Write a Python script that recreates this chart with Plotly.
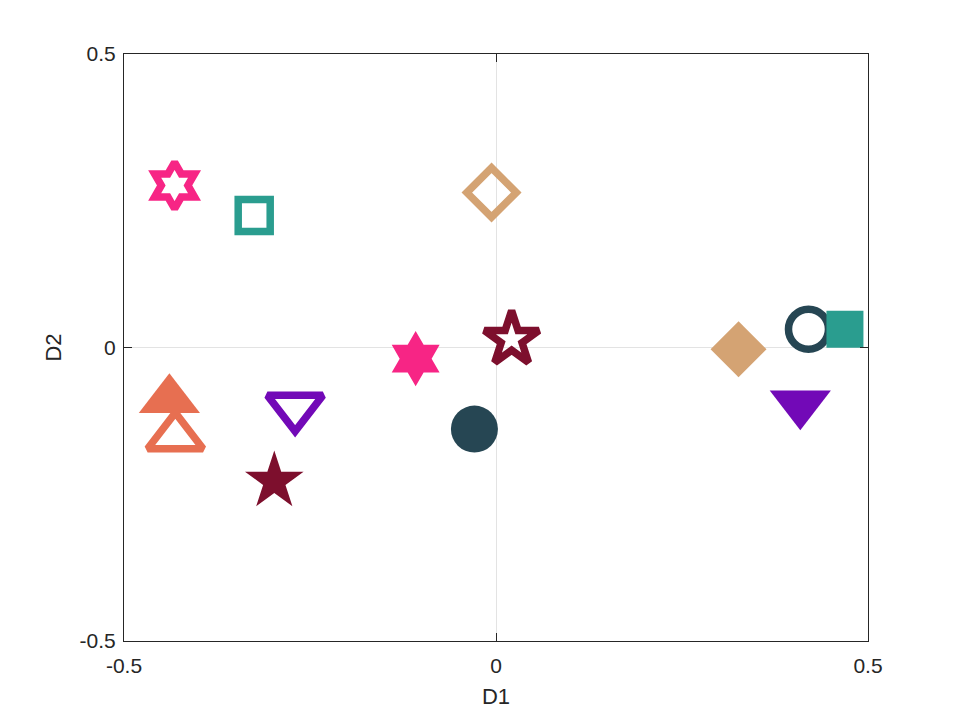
import plotly.graph_objects as go

# point positions (D1, D2)
labels = ["hex_open", "sq_open", "dia_open", "star_open", "circ_open", "triup_open", "tridn_open",
          "hex", "star", "dia", "sq", "tridn", "triup", "circ"]
d1 = [-0.432, -0.325, -0.006, 0.021, 0.420, -0.431, -0.270,
      -0.108, -0.298, 0.326, 0.469, 0.409, -0.439, -0.029]
d2 = [0.276, 0.225, 0.264, 0.014, 0.031, -0.152, -0.102,
      -0.019, -0.228, -0.003, 0.031, -0.096, -0.089, -0.139]

# styling per point
symbols = ["hexagram-open", "square-open", "diamond-open", "star-open", "circle-open",
           "triangle-up-open", "triangle-down-open",
           "hexagram", "star", "diamond", "square", "triangle-down", "triangle-up", "circle"]
colors = ["#F72585", "#2A9D8F", "#D4A373", "#7D0F2D", "#264653", "#E76F51", "#7209B7",
          "#F72585", "#7D0F2D", "#D4A373", "#2A9D8F", "#7209B7", "#E76F51", "#264653"]
sizes = [35, 32, 38, 41, 40, 48, 48,
         42, 44, 43, 37, 53, 53, 47]
widths = [7.5, 7.5, 7.5, 7.5, 7.5, 7.5, 7.5,
          0, 0, 0, 0, 0, 0, 0]

fig = go.Figure()
for i in range(len(labels)):
    fig.add_trace(go.Scatter(
        x=[d1[i]], y=[d2[i]], mode="markers", name=labels[i],
        marker=dict(symbol=symbols[i], color=colors[i], size=sizes[i],
                    line=dict(color=colors[i], width=widths[i]))))

axis_style = dict(
    range=[-0.5, 0.5], tickvals=[-0.5, 0, 0.5], ticktext=["-0.5", "0", "0.5"],
    showline=True, linecolor="#262626", linewidth=1, mirror="ticks",
    ticks="inside", ticklen=8, tickcolor="#262626", tickwidth=1,
    showgrid=True, gridcolor="#e3e3e3", gridwidth=1, zeroline=False,
    tickfont=dict(size=21, color="#262626"),
)

fig.update_layout(
    width=960, height=720,
    margin=dict(l=116, r=100, t=46, b=87),
    paper_bgcolor="white", plot_bgcolor="white",
    font=dict(family="Liberation Sans, Arial, sans-serif", color="#262626"),
    showlegend=False,
    xaxis=dict(axis_style, ticklabelstandoff=6,
               title=dict(text="D1", font=dict(size=22), standoff=12)),
    yaxis=dict(axis_style, ticklabelstandoff=3,
               title=dict(text="D2", font=dict(size=22), standoff=11)),
)

fig.write_html("out.html")
